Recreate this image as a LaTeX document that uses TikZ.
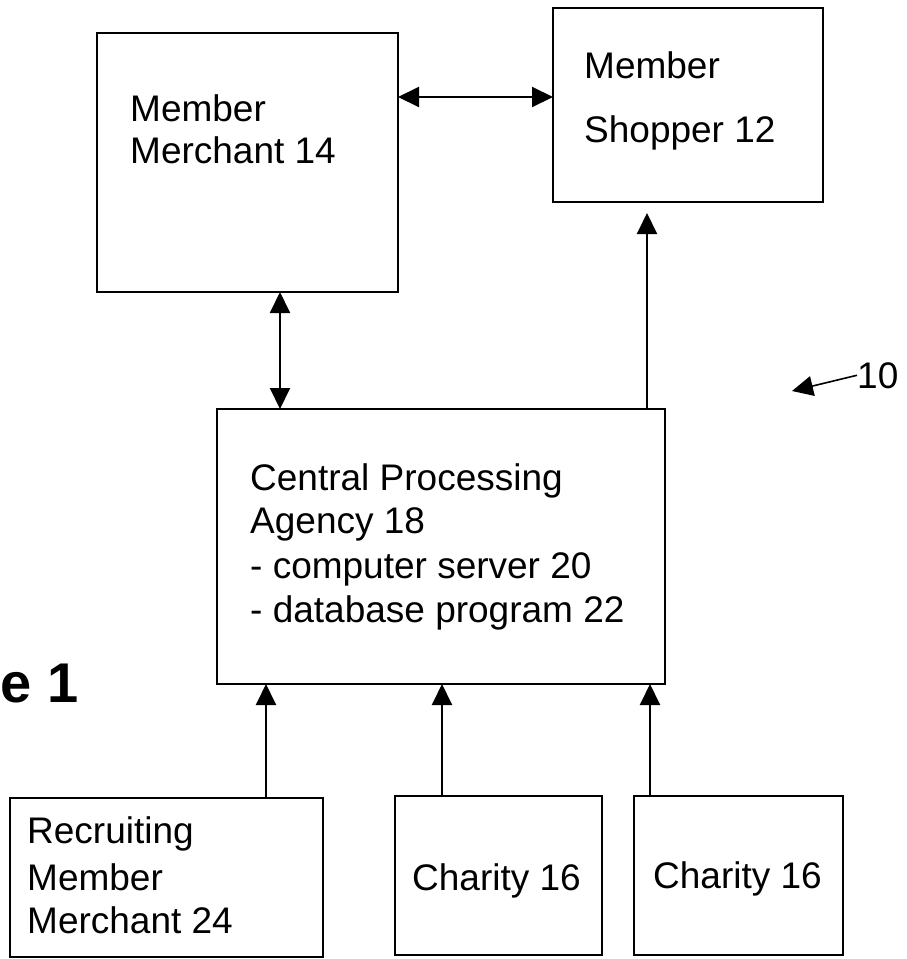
\documentclass[tikz,border=0pt]{standalone}
\usepackage{fontspec}
\setmainfont{Liberation Sans}
\usetikzlibrary{arrows.meta}
\begin{document}
\begin{tikzpicture}[x=1pt,y=-1pt,
  box/.style={draw, line width=2pt, inner sep=0pt, outer sep=0pt},
  lbl/.style={anchor=base west, inner sep=0pt, font=\fontsize{37}{44}\selectfont},
  arr/.style={line width=2pt, -{Triangle[length=21pt,width=20pt]}},
  darr/.style={line width=2pt, {Triangle[length=21pt,width=20pt]}-{Triangle[length=21pt,width=20pt]}}]
\useasboundingbox (0,0) rectangle (906,959);
% boxes
\node[box, minimum width=301pt, minimum height=259pt] (MM) at (247.5,162.5) {};
\node[box, minimum width=270pt, minimum height=194pt] (MS) at (688,105) {};
\node[box, minimum width=448pt, minimum height=275pt] (CPA) at (441,546.5) {};
\node[box, minimum width=313pt, minimum height=159pt] (RMM) at (166.5,877.5) {};
\node[box, minimum width=207pt, minimum height=159pt] (C1) at (498.5,875.5) {};
\node[box, minimum width=209pt, minimum height=159pt] (C2) at (738.5,875.5) {};
% texts
\node[lbl] (MMa) at (130,121) {Member};
\node[lbl] (MMb) at (130,163) {Merchant 14};
\node[lbl] (MSa) at (584,78) {Member};
\node[lbl] (MSb) at (584,142) {Shopper 12};
\node[lbl] (CPAa) at (250,490) {Central Processing};
\node[lbl] (CPAb) at (250,533) {Agency 18};
\node[lbl] (CPAc) at (250,578) {- computer server 20};
\node[lbl] (CPAd) at (250,622) {- database program 22};
\node[lbl] (RMMa) at (27,843) {Recruiting};
\node[lbl] (RMMb) at (27,890) {Member};
\node[lbl] (RMMc) at (27,933) {Merchant 24};
\node[lbl] (C1t) at (412,890) {Charity 16};
\node[lbl] (C2t) at (653,888) {Charity 16};
\node[anchor=base east, inner sep=0pt, font=\fontsize{56}{60}\selectfont\bfseries] (fig) at (79,702) {e 1};
\node[lbl] (ten) at (857,388) {10};
% helper coordinates
\coordinate (h1) at (0,97);
\coordinate (v1) at (280,0);
\coordinate (v2) at (647,0);
\coordinate (b1) at (266,0);
\coordinate (b2) at (442,0);
\coordinate (b3) at (650,0);
\coordinate (tentip) at (792,391);
% connectors
\draw[darr] (MM.east |- h1) -- (MS.west |- h1);
\draw[darr] (v1 |- MM.south) -- (v1 |- CPA.north);
\draw[arr, shorten >=11pt] (v2 |- CPA.north) -- (v2 |- MS.south);
\draw[arr] (b1 |- RMM.north) -- (b1 |- CPA.south);
\draw[arr] (b2 |- C1.north) -- (b2 |- CPA.south);
\draw[arr] (b3 |- C2.north) -- (b3 |- CPA.south);
\draw[arr, line width=1.6pt] (ten.west) -- (tentip);
\end{tikzpicture}
\end{document}
